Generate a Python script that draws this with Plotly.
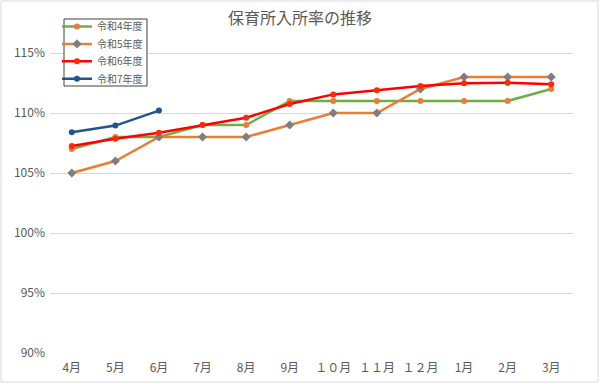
import plotly.graph_objects as go

months = ["4月", "5月", "6月", "7月", "8月", "9月", "１０月", "１１月", "１２月", "1月", "2月", "3月"]
r4 = [107.0, 108.0, 108.0, 109.0, 109.0, 111.0, 111.0, 111.0, 111.0, 111.0, 111.0, 112.0]
r5 = [105.0, 106.0, 108.0, 108.0, 108.0, 109.0, 110.0, 110.0, 112.0, 113.0, 113.0, 113.0]
r6 = [107.25, 107.85, 108.35, 109.0, 109.6, 110.75, 111.55, 111.9, 112.25, 112.47, 112.53, 112.4]
r7 = [108.4, 108.95, 110.2]
yticks = [90, 95, 100, 105, 110, 115]
ylabels = ["90%", "95%", "100%", "105%", "110%", "115%"]

FONT = "Noto Sans CJK JP"
TXT = "#595959"
W, H = 600, 384
ml, mr, mt, mb = 50, 27, 35, 31
pw, ph = W - ml - mr, H - mt - mb

def px2paper_x(p):
    return (p - ml) / pw

def px2paper_y(p):
    return (H - mb - p) / ph

series = [
    ("令和4年度", months, r4, "#70AD47", dict(color="#ED7D31", size=6)),
    ("令和5年度", months, r5, "#ED7D31", dict(color="#7F7F7F", size=7, symbol="diamond")),
    ("令和6年度", months, r6, "#FF0000", dict(color="#FF2A00", size=6)),
    ("令和7年度", months[:len(r7)], r7, "#1F5690", dict(color="#1F5690", size=6)),
]

fig = go.Figure()
legend_layout = {}
for i, (name, xs, ys, col, mk) in enumerate(series):
    lg = "legend" if i == 0 else f"legend{i + 1}"
    fig.add_trace(go.Scatter(x=xs, y=ys, name=name, mode="lines+markers",
                             line=dict(color=col, width=2.5), marker=mk, legend=lg))
    legend_layout[lg] = dict(
        x=px2paper_x(57), y=px2paper_y(12 + 17.4 * i), xanchor="left", yanchor="top",
        bgcolor="rgba(0,0,0,0)", borderwidth=0,
        font=dict(size=10, color=TXT, family=FONT),
        itemwidth=30, tracegroupgap=0)

# legend frame
fig.add_shape(type="rect", xref="paper", yref="paper",
              x0=px2paper_x(64), x1=px2paper_x(147),
              y0=px2paper_y(86), y1=px2paper_y(19),
              line=dict(color="#404040", width=1), fillcolor="white", layer="above")
# chart outer border
fig.add_shape(type="rect", xref="paper", yref="paper",
              x0=px2paper_x(1), x1=px2paper_x(598),
              y0=px2paper_y(382), y1=px2paper_y(1),
              line=dict(color="#D9D9D9", width=1), layer="below")

fig.update_layout(
    width=W, height=H,
    margin=dict(l=ml, r=mr, t=mt, b=mb, autoexpand=False),
    paper_bgcolor="white", plot_bgcolor="white",
    font=dict(family=FONT, color=TXT, size=11),
    title=dict(text="保育所入所率の推移", x=0.5, xref="container", xanchor="center",
               y=1 - 18 / H, yanchor="middle", yref="container",
               font=dict(size=16, color=TXT, family=FONT)),
    showlegend=True,
    xaxis=dict(type="category", showgrid=False, zeroline=False, showline=False,
               ticks="", tickfont=dict(size=12, color=TXT, family=FONT),
               range=[-0.5, 11.5], automargin=False, ticklabelstandoff=6),
    yaxis=dict(range=[90, 90 + 5 * ph / 60], tickvals=yticks, ticktext=ylabels,
               showgrid=True, gridcolor="#D9D9D9", gridwidth=1, zeroline=False,
               showline=False, ticks="", tickfont=dict(size=12, color=TXT, family=FONT),
               automargin=False, ticklabelstandoff=4),
    **legend_layout,
)

fig.write_html("out.html", config={"displayModeBar": False},
               post_script="document.body.style.margin='0';")
